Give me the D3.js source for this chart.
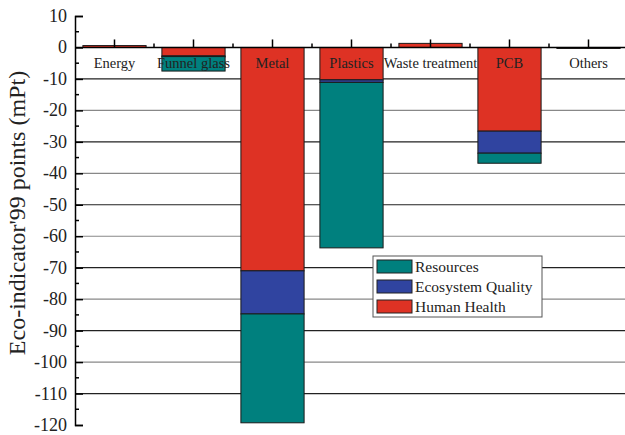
<!DOCTYPE html>
<html>
<head>
<meta charset="utf-8">
<script src="https://cdn.jsdelivr.net/npm/d3@7"></script>
<style>
  body { margin: 0; background: #fff; }
  svg { font-family: "Liberation Serif", "Times New Roman", serif; }
</style>
</head>
<body>
<svg id="chart" width="625" height="435"></svg>
<script>
// data (mPt)
var categories = ['Energy', 'Funnel glass', 'Metal', 'Plastics', 'Waste treatment', 'PCB', 'Others'];
var humanHealth = [0.6, -2.7, -71.0, -10.3, 1.3, -26.6, -0.3];
var ecosystemQuality = [0, -0.2, -13.7, -0.8, 0, -7.0, 0];
var resources = [0, -4.6, -34.6, -52.6, 0, -3.2, 0];
var yTicks = [10, 0, -10, -20, -30, -40, -50, -60, -70, -80, -90, -100, -110, -120];

var seriesNames = ['Human Health', 'Ecosystem Quality', 'Resources'];
var colors = { 'Human Health': '#de3224', 'Ecosystem Quality': '#3044a0', 'Resources': '#00807e' };

var rows = categories.map(function(c, i) {
  return { cat: c, 'Human Health': humanHealth[i], 'Ecosystem Quality': ecosystemQuality[i], 'Resources': resources[i] };
});

var svg = d3.select('#chart');
var mLeft = 75, mRight = 628, mTop = 16, mBottom = 425;

var x = d3.scaleBand().domain(categories).range([mLeft, mRight]).paddingInner(0.2).paddingOuter(0.1);
var y = d3.scaleLinear().domain([-120, 10]).range([mBottom, mTop]);

// gridlines, alternating dark / grey
svg.append('g').selectAll('line')
  .data(yTicks.filter(function(d) { return d < 0 && d > -120; }))
  .enter().append('line')
  .attr('x1', mLeft).attr('x2', 625)
  .attr('y1', function(d) { return y(d); }).attr('y2', function(d) { return y(d); })
  .attr('stroke', function(d, i) { return i % 2 === 0 ? '#222' : '#888'; })
  .attr('stroke-width', 1.2);

// stacked bars
var stack = d3.stack().keys(seriesNames).offset(d3.stackOffsetDiverging);
var layers = stack(rows);

svg.append('g').selectAll('g')
  .data(layers)
  .enter().append('g')
  .attr('fill', function(d) { return colors[d.key]; })
  .selectAll('rect')
  .data(function(d) { return d.filter(function(p) { return p[1] - p[0] !== 0; }); })
  .enter().append('rect')
  .attr('x', function(d) { return x(d.data.cat); })
  .attr('width', x.bandwidth())
  .attr('y', function(d) { return y(d[1]); })
  .attr('height', function(d) { return Math.max(1, y(d[0]) - y(d[1])); })
  .attr('stroke', '#1a1a1a')
  .attr('stroke-width', 1);

// zero axis with ticks pointing up
svg.append('line').attr('x1', mLeft).attr('x2', 625).attr('y1', y(0)).attr('y2', y(0))
  .attr('stroke', '#000').attr('stroke-width', 1.5);
var xg = svg.append('g');
xg.selectAll('.maj').data(categories).enter().append('line')
  .attr('x1', function(d) { return x(d) + x.bandwidth() / 2; })
  .attr('x2', function(d) { return x(d) + x.bandwidth() / 2; })
  .attr('y1', y(0)).attr('y2', y(0) - 8)
  .attr('stroke', '#000').attr('stroke-width', 1.5);
xg.selectAll('.min').data(categories.slice(1)).enter().append('line')
  .attr('x1', function(d) { return x(d) - x.step() * x.paddingInner() / 2; })
  .attr('x2', function(d) { return x(d) - x.step() * x.paddingInner() / 2; })
  .attr('y1', y(0)).attr('y2', y(0) - 4)
  .attr('stroke', '#000').attr('stroke-width', 1.5);

// category labels
svg.append('g').selectAll('text').data(categories).enter().append('text')
  .attr('x', function(d) { return x(d) + x.bandwidth() / 2; })
  .attr('y', y(0) + 21)
  .attr('text-anchor', 'middle')
  .attr('font-size', 14.5)
  .attr('fill', '#222')
  .text(function(d) { return d; });

// y axis, ticks inward
var yAxis = d3.axisRight(y).tickValues(yTicks).tickSize(8).tickFormat('');
var ya = svg.append('g').attr('transform', 'translate(' + mLeft + ',0)').call(yAxis);
ya.select('.domain').attr('stroke-width', 1.5);
ya.selectAll('.tick line').attr('stroke-width', 1.5);
var minor = d3.range(5, -120, -10);
svg.append('g').selectAll('line').data(minor).enter().append('line')
  .attr('x1', mLeft).attr('x2', mLeft + 4)
  .attr('y1', function(d) { return y(d); }).attr('y2', function(d) { return y(d); })
  .attr('stroke', '#000').attr('stroke-width', 1.5);

svg.append('g').selectAll('text').data(yTicks).enter().append('text')
  .attr('x', 67)
  .attr('y', function(d) { return y(d) + 6; })
  .attr('text-anchor', 'end')
  .attr('font-size', 18)
  .attr('fill', '#222')
  .text(function(d) { return d; });

svg.append('text')
  .attr('transform', 'translate(25,213) rotate(-90)')
  .attr('text-anchor', 'middle')
  .attr('font-size', 24)
  .attr('fill', '#222')
  .text("Eco-indicator'99 points (mPt)");

// legend
var legendOrder = ['Resources', 'Ecosystem Quality', 'Human Health'];
var lg = svg.append('g').attr('transform', 'translate(373,256)');
lg.append('rect').attr('width', 169).attr('height', 61)
  .attr('fill', '#fff').attr('stroke', '#555').attr('stroke-width', 1);
var li = lg.selectAll('g').data(legendOrder).enter().append('g')
  .attr('transform', function(d, i) { return 'translate(4,' + (4 + i * 20) + ')'; });
li.append('rect').attr('width', 35).attr('height', 13)
  .attr('fill', function(d) { return colors[d]; })
  .attr('stroke', '#222').attr('stroke-width', 1);
li.append('text').attr('x', 38).attr('y', 12)
  .attr('font-size', 15.5).attr('fill', '#222')
  .text(function(d) { return d; });
</script>
</body>
</html>
